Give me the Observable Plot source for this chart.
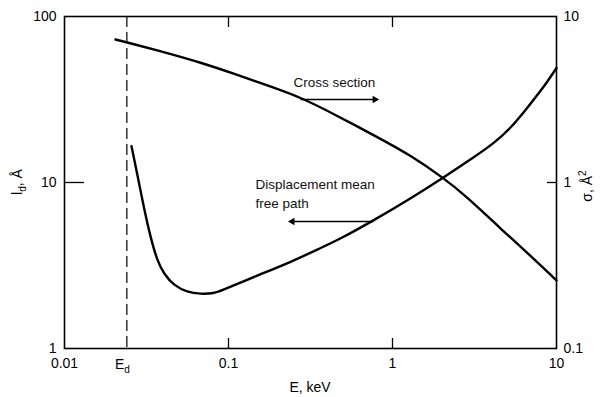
<!DOCTYPE html>
<html>
<head>
<meta charset="utf-8">
<script src="https://cdn.jsdelivr.net/npm/d3@7"></script>
<script src="https://cdn.jsdelivr.net/npm/@observablehq/plot@0.6"></script>
<style>
  html, body { margin: 0; padding: 0; background: #fff; }
  #chart svg { display: block; }
</style>
</head>
<body>
<div id="chart"></div>
<script>
// Energy (keV) and cross section sigma (Å², right axis)
const crossEnergy = [0.02046, 0.02421, 0.04246, 0.06751, 0.1073, 0.1729, 0.2748, 0.4367, 0.8449, 1.288, 2.046, 2.787, 4.555, 7.24, 10];
const crossSigma  = [7.267, 6.972, 6.027, 5.284, 4.537, 3.840, 3.265, 2.593, 1.834, 1.458, 1.064, 0.835, 0.528, 0.349, 0.257];

// Energy (keV) and displacement mean free path l_d (Å, left axis)
const pathEnergy = [0.02562, 0.02775, 0.03045, 0.03345, 0.03674, 0.04031, 0.0464, 0.056, 0.06751, 0.08133, 0.09322, 0.1183, 0.1503, 0.2388, 0.3639, 0.4818, 0.7657, 1.288, 2.046, 3.118, 4.13, 5.242, 6.656, 8.33, 10];
const pathLength = [16.55, 11.28, 7.10, 4.68, 3.39, 2.818, 2.396, 2.184, 2.129, 2.144, 2.257, 2.498, 2.754, 3.311, 4.025, 4.579, 5.904, 8.01, 10.72, 14.15, 17.17, 21.15, 28.30, 37.35, 48.96];

// Displacement threshold energy (keV)
const displacementEnergy = 0.024;

// Tick values and labels
const xTicks = [0.01, 0.1, 1, 10];
const xTickLabels = ["0.01", "0.1", "1", "10"];
const leftTicks = [1, 10, 100];
const rightTickLabels = ["0.1", "1", "10"];

// Annotation labels and their pointer arrows (energy, l_d units)
const noteText = ["Cross section", "Displacement mean\nfree path"];
const noteX = [0.249, 0.146];
const noteY = [45.4, 11.0];
const arrowX1 = [0.275, 0.766];
const arrowX2 = [0.78, 0.245];
const arrowY = [31.6, 5.82];

// Right axis is a factor 10 below the left axis
const sigmaScale = 10;

const crossData = crossEnergy.map((e, i) => ({e, v: crossSigma[i] * sigmaScale}));
const pathData = pathEnergy.map((e, i) => ({e, v: pathLength[i]}));
const notes = noteText.map((t, i) => ({t, x: noteX[i], y: noteY[i]}));
const arrows = arrowX1.map((x1, i) => ({x1, x2: arrowX2[i], y: arrowY[i], dir: x1 < arrowX2[i] ? 90 : -90}));

const font = "'Liberation Sans', Arial, sans-serif";

const chart = Plot.plot({
  width: 611,
  height: 397,
  marginLeft: 64,
  marginRight: 55,
  marginTop: 16,
  marginBottom: 49,
  style: {fontFamily: font, fontSize: "14px", background: "#fff", color: "#000"},
  x: {type: "log", domain: [0.01, 10]},
  y: {type: "log", domain: [1, 100]},
  marks: [
    // inward tick marks
    Plot.axisX({anchor: "bottom", ticks: [0.1, 1], tickSize: -10, tickFormat: () => "", strokeWidth: 1.3}),
    Plot.axisX({anchor: "top", ticks: [0.1, 1], tickSize: -10, tickFormat: () => "", strokeWidth: 1.3}),
    Plot.axisY({anchor: "left", ticks: [10], tickSize: -20, tickFormat: () => "", strokeWidth: 1.3}),
    Plot.axisY({anchor: "right", ticks: [10], tickSize: -10, tickFormat: () => "", strokeWidth: 1.3}),
    // tick labels
    Plot.axisX({anchor: "bottom", ticks: xTicks, tickSize: 0, tickPadding: 10,
      tickFormat: d => xTickLabels[xTicks.indexOf(d)], fontSize: 14, label: null}),
    Plot.axisY({anchor: "left", ticks: leftTicks, tickSize: 0, tickPadding: 8,
      tickFormat: d => String(d), fontSize: 14, label: null}),
    Plot.axisY({anchor: "right", ticks: leftTicks, tickSize: 0, tickPadding: 7,
      tickFormat: d => rightTickLabels[leftTicks.indexOf(d)], fontSize: 14, label: null}),
    Plot.frame({stroke: "#000", strokeWidth: 1.6}),
    // displacement threshold
    Plot.ruleX([displacementEnergy], {stroke: "#000", strokeWidth: 1.2, strokeDasharray: "11,5"}),
    // curves
    Plot.line(crossData, {x: "e", y: "v", curve: "basis", stroke: "#000", strokeWidth: 2.4}),
    Plot.line(pathData, {x: "e", y: "v", curve: "basis", stroke: "#000", strokeWidth: 2.4}),
    // annotations
    Plot.text(notes, {x: "x", y: "y", text: "t", textAnchor: "start", lineAnchor: "top", fontSize: 13.5, lineHeight: 1.4, fill: "#111"}),
    Plot.link(arrows, {x1: "x1", x2: "x2", y1: "y", y2: "y", stroke: "#000", strokeWidth: 1.4}),
    Plot.dot(arrows, {x: "x2", y: "y", symbol: "triangle2", rotate: "dir", r: 3.6, fill: "#000", stroke: null})
  ]
});

document.getElementById("chart").appendChild(chart);

// Axis titles and the E_d label, with subscripts as tspans
const svg = d3.select(chart);
const xs = d3.scaleLog().domain([0.01, 10]).range([64, 611 - 55]);

const ed = svg.append("text")
  .attr("x", xs(displacementEnergy) - 4).attr("y", 369)
  .attr("text-anchor", "middle")
  .style("font", `14px ${font}`).attr("fill", "#000");
ed.append("tspan").text("E");
ed.append("tspan").attr("dy", 4).style("font-size", "10px").text("d");

svg.append("text")
  .attr("x", 310).attr("y", 392)
  .attr("text-anchor", "middle")
  .style("font", `14px ${font}`).attr("fill", "#000")
  .text("E, keV");

const ly = svg.append("text")
  .attr("transform", "translate(22,182) rotate(-90)")
  .attr("text-anchor", "middle")
  .style("font", `14px ${font}`).attr("fill", "#000");
ly.append("tspan").text("l");
ly.append("tspan").attr("dy", 4).style("font-size", "10px").text("d");
ly.append("tspan").attr("dy", -4).text(", Å");

const ry = svg.append("text")
  .attr("transform", "translate(592,186) rotate(-90)")
  .attr("text-anchor", "middle")
  .style("font", `14px ${font}`).attr("fill", "#000");
ry.append("tspan").text("σ, Å");
ry.append("tspan").attr("dy", -6).style("font-size", "10px").text("2");
</script>
</body>
</html>
